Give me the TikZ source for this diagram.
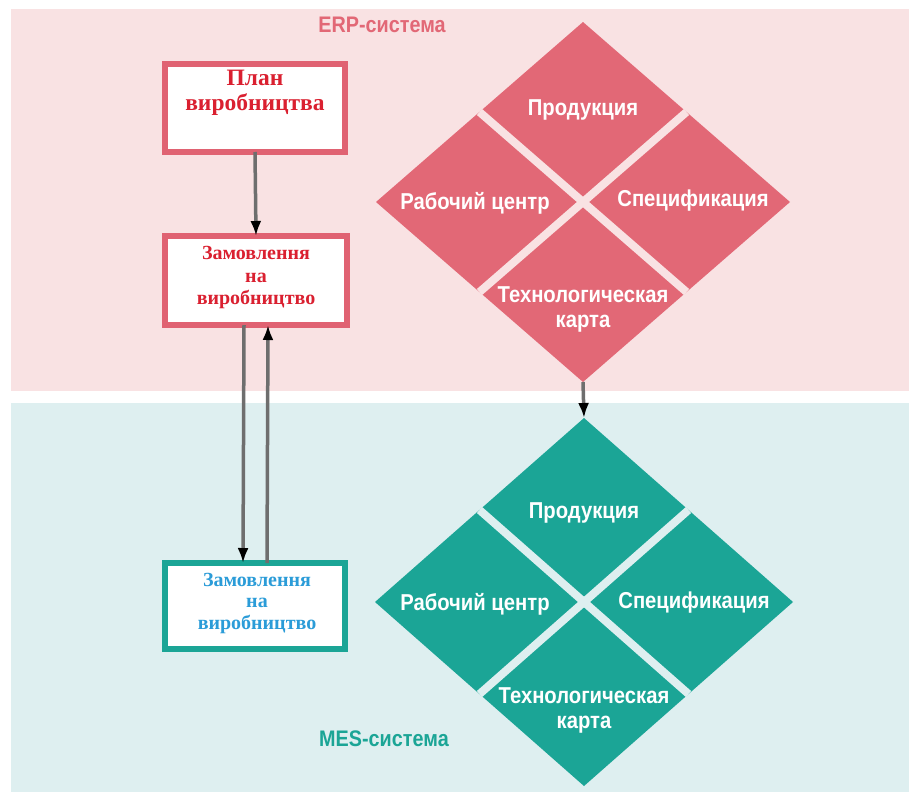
\documentclass[tikz,border=0pt]{standalone}
\usepackage{fontspec}
\setmainfont{Liberation Serif}
\newfontfamily\condsans[FakeStretch=0.88]{Liberation Sans}
\usetikzlibrary{arrows.meta,calc}
\definecolor{pinkbg}{HTML}{F9E2E3}
\definecolor{pinkdia}{HTML}{E26876}
\definecolor{tealbg}{HTML}{DEEFF0}
\definecolor{tealdia}{HTML}{1BA596}
\definecolor{redborder}{HTML}{E06272}
\definecolor{redtext}{HTML}{DA2030}
\definecolor{bluetext}{HTML}{2B9CD8}
\definecolor{arrowgray}{HTML}{6E6E6E}
\tikzset{
  boxnode/.style={draw, fill=white, line width=6pt, minimum width=180pt, minimum height=88pt, inner sep=0pt, outer sep=0pt},
  boxtext/.style={font=\bfseries, align=center, inner sep=0pt},
  diatext/.style={font=\condsans\bfseries\fontsize{23}{25}\selectfont, text=white, align=center, inner sep=0pt},
  syslabel/.style={font=\condsans\bfseries\fontsize{22.5}{24}\selectfont, inner sep=0pt},
  conn/.style={draw=arrowgray, line width=3.5pt, -{Latex[black,length=15pt,width=11pt]}},
}
\begin{document}
\begin{tikzpicture}[x=1pt,y=-1pt]
\useasboundingbox (0,0) rectangle (909,795);
\fill[white] (0,0) rectangle (909,795);
% backgrounds
\fill[pinkbg] (11,9) rectangle (909,391);
\fill[tealbg] (11,403) rectangle (909,792);
% labels
\node[syslabel, text=pinkdia] (erp) at (382,25) {ERP-система};
\node[syslabel, text=tealdia] (mes) at (384,739) {MES-система};

% top diamond
\coordinate (t1) at (583,22);
\coordinate (r1) at (790,202);
\coordinate (b1) at (583,382);
\coordinate (l1) at (376,202);
\fill[pinkdia] (t1) -- (r1) -- (b1) -- (l1) -- cycle;
\draw[pinkbg, line width=8pt] ($(t1)!0.5!(l1)$) -- ($(b1)!0.5!(r1)$);
\draw[pinkbg, line width=8pt] ($(t1)!0.5!(r1)$) -- ($(b1)!0.5!(l1)$);
\node[diatext] (p1) at (583,110) {Продукция};
\node[diatext] (w1) at (475,203) {Рабочий центр};
\node[diatext] (s1) at (693,201) {Спецификация};
\node[diatext] (k1) at (583,309) {Технологическая\\карта};

% bottom diamond
\coordinate (t2) at (584,418);
\coordinate (r2) at (793,602);
\coordinate (b2) at (584,786);
\coordinate (l2) at (375,602);
\fill[tealdia] (t2) -- (r2) -- (b2) -- (l2) -- cycle;
\draw[tealbg, line width=8pt] ($(t2)!0.5!(l2)$) -- ($(b2)!0.5!(r2)$);
\draw[tealbg, line width=8pt] ($(t2)!0.5!(r2)$) -- ($(b2)!0.5!(l2)$);
\node[diatext] (p2) at (584,513) {Продукция};
\node[diatext] (w2) at (475,604) {Рабочий центр};
\node[diatext] (s2) at (694,603) {Спецификация};
\node[diatext] (k2) at (584,710) {Технологическая\\карта};

\draw[conn] (b1) -- (t2);

% boxes
\node[boxnode, draw=redborder] (plan) at (255,108) {};
\node[boxnode, draw=redborder, minimum width=182pt, minimum height=89pt] (ord1) at (256,280.5) {};
\node[boxnode, draw=tealdia, minimum height=86pt] (ord2) at (255,606) {};
\node[boxtext, text=redtext, font=\bfseries\fontsize{23.5}{25}\selectfont] (plantxt) at (255,93) {План\\виробництва};
\node[boxtext, text=redtext, font=\bfseries\fontsize{20}{22.5}\selectfont] (ord1txt) at (256,278) {Замовлення\\на\\виробництво};
\node[boxtext, text=bluetext, font=\bfseries\fontsize{20}{21.5}\selectfont] (ord2txt) at (257,603) {Замовлення\\на\\виробництво};

\draw[conn] (plan.south) -- (ord1.north);
\draw[conn] ([xshift=-12pt]ord1.south) -- ([xshift=-12pt]ord2.north);
\draw[conn] ([xshift=12pt]ord2.north) -- ([xshift=12pt]ord1.south);
\end{tikzpicture}
\end{document}
